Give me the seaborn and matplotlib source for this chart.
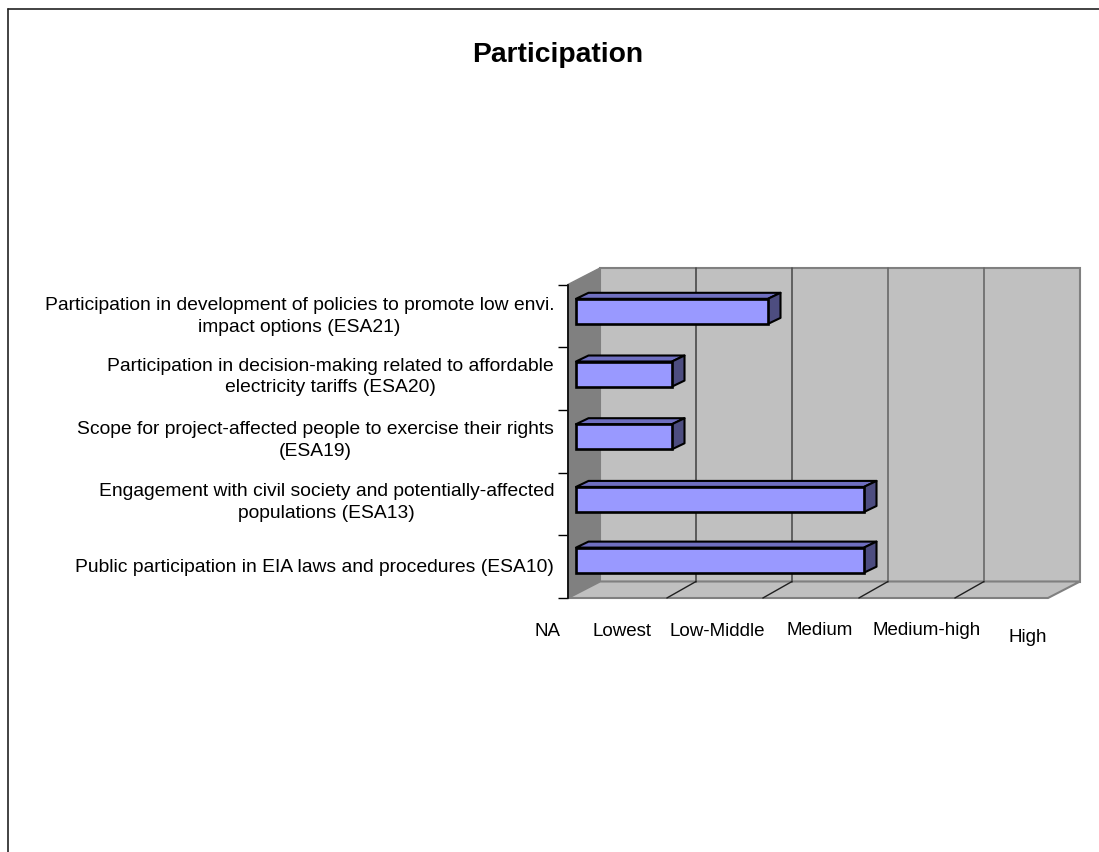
import matplotlib
matplotlib.use("Agg")
import matplotlib.pyplot as plt
from matplotlib.lines import Line2D
from matplotlib.patches import Polygon
from matplotlib.transforms import ScaledTranslation
import pandas as pd
import seaborn as sns

indicators = [
    "Participation in development of policies to promote low envi.\nimpact options (ESA21)",
    "Participation in decision-making related to affordable\nelectricity tariffs (ESA20)",
    "Scope for project-affected people to exercise their rights\n(ESA19)",
    "Engagement with civil society and potentially-affected\npopulations (ESA13)",
    "Public participation in EIA laws and procedures (ESA10)",
]
scores = [2, 1, 1, 3, 3]
levels = ["NA", "Lowest", "Low-Middle", "Medium", "Medium-high", "High"]

FRONT = "#9999FF"
TOP = "#6F6FC0"
SIDE = "#4D4D80"
WALL = "#C0C0C0"
SIDE_WALL = "#808080"

sns.set_theme(style="white")
plt.rcParams["font.family"] = ["Liberation Sans", "DejaVu Sans"]

W, H = 1099, 852
fig = plt.figure(figsize=(W / 100, H / 100), dpi=100, facecolor="white")
left, right, top, bottom = 568, 1048, 284.5, 598
ax = fig.add_axes([left / W, 1 - bottom / H, (right - left) / W, (bottom - top) / H])

df = pd.DataFrame({"indicator": indicators, "score": scores})
sns.barplot(data=df, y="indicator", x="score", orient="h", order=indicators,
            width=0.40, color=FRONT, saturation=1, edgecolor="black",
            linewidth=1.9, ax=ax, zorder=5)
ax.set_xlim(0, 5)
ax.set_ylim(4.5, -0.5)
ax.set_xlabel("")
ax.set_ylabel("")

# pixel-to-data factors for the oblique projection
ux = (right - left) / 5
uy = (bottom - top) / 5
wall_dx, wall_dy = 32 / ux, -16.5 / uy
bar_dx, bar_dy = 8 / ux, -4.5 / uy
depth_dx, depth_dy = 12.5 / ux, -6 / uy
y0, y1 = 4.5, -0.5

# back wall, side wall and floor
ax.add_patch(Polygon([(wall_dx, y0 + wall_dy), (5 + wall_dx, y0 + wall_dy),
                      (5 + wall_dx, y1 + wall_dy), (wall_dx, y1 + wall_dy)],
                     fc=WALL, ec=SIDE_WALL, lw=1.5, clip_on=False, zorder=1))
ax.add_patch(Polygon([(0, y0), (wall_dx, y0 + wall_dy),
                      (wall_dx, y1 + wall_dy), (0, y1)],
                     fc=SIDE_WALL, ec=SIDE_WALL, lw=1, clip_on=False, zorder=1.2))
ax.add_patch(Polygon([(0, y0), (5, y0), (5 + wall_dx, y0 + wall_dy), (wall_dx, y0 + wall_dy)],
                     fc=WALL, ec=SIDE_WALL, lw=1.5, clip_on=False, zorder=1.2))

# gridlines on the back wall and across the floor
for x, shade in zip(range(1, 5), ["#484848", "#505050", "#686868", "#686868"]):
    ax.plot([x + wall_dx, x + wall_dx], [y0 + wall_dy, y1 + wall_dy],
            color=shade, lw=1.2, clip_on=False, zorder=1.5)
    ax.plot([x + wall_dx, x + 0.03], [y0 + wall_dy, y0],
            color="#202020", lw=1, clip_on=False, zorder=1.5)

# shift each bar off the side wall and give it a top and an end face
bar_lift = [0, 0, 0, 0, -2 / uy]
bars = [p for p in ax.patches if p.get_zorder() == 5]
for patch, lift in zip(bars, bar_lift):
    patch.set_x(bar_dx)
    patch.set_y(patch.get_y() + bar_dy + lift)
    x0, w = patch.get_x(), patch.get_width()
    yt, h = patch.get_y(), patch.get_height()
    x1, yb = x0 + w, yt + h
    ax.add_patch(Polygon([(x0, yt), (x1, yt), (x1 + depth_dx, yt + depth_dy), (x0 + depth_dx, yt + depth_dy)],
                         fc=TOP, ec="black", lw=1.5, joinstyle="round", clip_on=False, zorder=4))
    ax.add_patch(Polygon([(x1, yt), (x1 + depth_dx, yt + depth_dy), (x1 + depth_dx, yb + depth_dy), (x1, yb)],
                         fc=SIDE, ec="black", lw=1.5, joinstyle="round", clip_on=False, zorder=4))

for side in ["top", "right", "bottom"]:
    ax.spines[side].set_visible(False)
ax.spines["left"].set_color("black")
ax.spines["left"].set_linewidth(1.2)
ax.spines["left"].set_zorder(6)

# category labels at the slot centres, tick marks on the slot boundaries
ax.set_yticks(range(len(indicators)))
ax.set_yticklabels(indicators, fontsize=13.85, color="black", ha="right", ma="center", linespacing=1.38)
ax.tick_params(axis="y", which="major", length=0, pad=10)
ax.set_yticks([i - 0.5 for i in range(len(indicators) + 1)], minor=True)
ax.tick_params(axis="y", which="minor", length=7.2, width=1, color="black", left=True)
for lab, shift in zip(ax.get_yticklabels(), [-3.5, -6, -5, -6, -1]):
    lab.set_transform(lab.get_transform() + ScaledTranslation(0, -shift / 100, fig.dpi_scale_trans))

# score levels sit left of their nominal positions, as in the source layout
ax.set_xticks(range(len(levels)))
ax.set_xticklabels(levels, fontsize=13.5, color="black")
ax.tick_params(axis="x", length=0, pad=18)
nudges = [(-21, 0), (-42, 0), (-43, 0), (-36, 1), (-25, 1), (-20, -6)]
for lab, (dx, dy) in zip(ax.get_xticklabels(), nudges):
    lab.set_transform(lab.get_transform() + ScaledTranslation(dx / 100, dy / 100, fig.dpi_scale_trans))

fig.text(558 / W, 1 - 55 / H, "Participation", fontsize=20.3, fontweight="bold",
         color="black", ha="center", va="center")

# chart-area frame: only the top and left edges fall inside the canvas
fig.add_artist(Line2D([8 / W, 8 / W], [0, 1 - 8.5 / H], color="#222222", lw=1.2))
fig.add_artist(Line2D([8 / W, 1], [1 - 8.5 / H, 1 - 8.5 / H], color="#222222", lw=1.2))

fig.savefig("out.png", dpi=100)
